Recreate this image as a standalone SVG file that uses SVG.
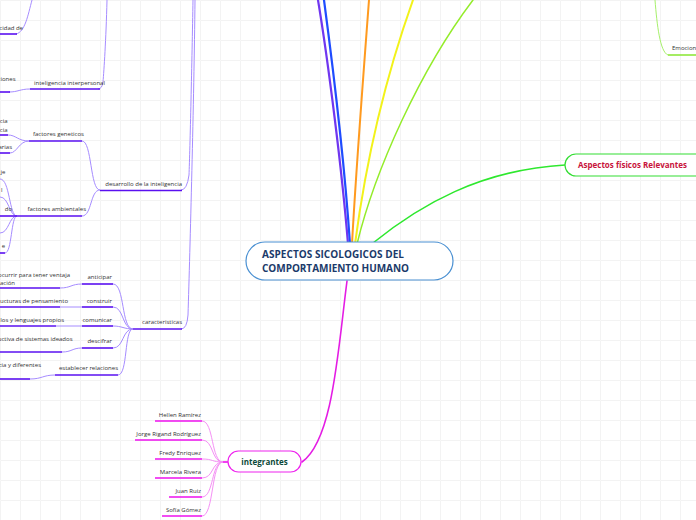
<svg xmlns="http://www.w3.org/2000/svg" width="696" height="520" viewBox="0 0 696 520">
<defs>
<pattern id="grid" width="20" height="20" patternUnits="userSpaceOnUse"><path d="M20.5,0.5 L0.5,0.5 0.5,20.5" fill="none" stroke="#f3f3f3" stroke-width="1"/></pattern>
<style>
.t{font-family:"Open Sans","Liberation Sans",sans-serif;font-size:6px;fill:#333}
.b{font-family:"Open Sans","Liberation Sans",sans-serif;font-weight:bold}
.ul{stroke:#5a10f0;stroke-width:1.6;fill:none}
.lc{stroke:#a68cff;stroke-width:1;fill:none}
.mu{stroke:#ee10ee;stroke-width:1.6;fill:none}
.mc{stroke:#f590f5;stroke-width:1;fill:none}
.m{fill:none;stroke-linecap:round}
</style>
</defs>
<rect width="696" height="520" fill="#fff"/>
<rect width="696" height="520" fill="url(#grid)"/>

<g id="connectors">
  <path class="m" d="M348,244 C342,170 328,60 318,0" stroke="#7036f0" stroke-width="2.2"/>
  <path class="m" d="M350,244 C345,170 332,60 324,0" stroke="#1f4cff" stroke-width="2.2"/>
  <path class="m" d="M352,244 C356,170 363,80 369,0" stroke="#ff9a1f" stroke-width="2"/>
  <path class="m" d="M355,244 Q372,115 413,0" stroke="#f2f21a" stroke-width="2"/>
  <path class="m" d="M357,244 C375,170 420,70 473,0" stroke="#94ec2a" stroke-width="1.5"/>
  <path class="m" d="M373,243 C420,205 480,170 565,165" stroke="#2ee82e" stroke-width="1.6"/>
  <path class="m" d="M347,281 C338,350 333,440 302,462" stroke="#e41ce4" stroke-width="1.6"/>
  <path d="M655,0 C657,25 660,52 668,55" fill="none" stroke="#a6f06a" stroke-width="1"/>

  <path class="lc" d="M193,0 C192,60 190,150 189,175 Q187,190 181,190"/>
  <path class="lc" d="M195,0 C194,100 190,250 188,315 Q187,329 181,329"/>
  <path class="lc" d="M107,0 C106,40 104,70 103,82 Q102,89 98,89"/>
  <path class="lc" d="M32,0 C28,15 25,32 16,34"/>
  <path class="lc" d="M9,92 C18,92 20,89 30,89"/>

  <path class="lc" d="M82,141 C92,141 90,190 100,190"/>
  <path class="lc" d="M82,216 C92,216 90,190 100,190"/>
  <path class="lc" d="M8,135 C16,135 18,141 29,141"/>
  <path class="lc" d="M10,153 C17,153 19,141 29,141"/>
  <path class="lc" d="M0,179 C10,179 9,216 17,216"/>
  <path class="lc" d="M0,197 C9,197 9,216 17,216"/>
  <path class="lc" d="M0,233 C9,233 9,216 17,216"/>
  <path class="lc" d="M5,253 C12,253 11,216 17,216"/>

  <path class="lc" d="M113,284 C125,284 121,329 133,329"/>
  <path class="lc" d="M113,307 C124,307 122,329 133,329"/>
  <path class="lc" d="M113,326 C122,326 124,329 133,329"/>
  <path class="lc" d="M113,348 C124,348 122,329 133,329"/>
  <path class="lc" d="M118,375 C128,375 124,329 133,329"/>
  <path class="lc" d="M60,288 C71,288 71,284 82,284"/>
  <path class="lc" d="M60,307 L82,307"/>
  <path class="lc" d="M56,326 L82,326"/>
  <path class="lc" d="M62,352 C72,352 72,348 82,348"/>
  <path class="lc" d="M30,379 C42,379 43,375 55,375"/>

  <path class="mc" d="M202,421 C214,421 211,462 223,462"/>
  <path class="mc" d="M202,440 C214,440 211,462 223,462"/>
  <path class="mc" d="M202,459 C214,459 211,462 223,462"/>
  <path class="mc" d="M202,478 C214,478 211,462 223,462"/>
  <path class="mc" d="M202,497 C214,497 211,462 223,462"/>
  <path class="mc" d="M202,516 C214,516 211,462 223,462"/>
  <path d="M223,462 L228,462" stroke="#ee10ee" stroke-width="1.6"/>
</g>

<g id="n-center">
  <rect x="246" y="242" width="207" height="38" rx="19" fill="#fff" stroke="#4a90d2" stroke-width="1.2"/>
  <text class="b" x="262" y="258" font-size="10" fill="#1b3a6a" textLength="142" lengthAdjust="spacing">ASPECTOS SICOLOGICOS DEL</text>
  <text class="b" x="262" y="271.5" font-size="10" fill="#1b3a6a" textLength="147" lengthAdjust="spacing">COMPORTAMIENTO HUMANO</text>
</g>

<g id="n-aspectos">
  <rect x="565" y="154" width="150" height="22" rx="11" fill="#fff" stroke="#33dd33" stroke-width="1.2"/>
  <text class="b" x="578" y="168" font-size="8" fill="#c8143c">Aspectos físicos Relevantes</text>
</g>

<g id="n-emocion">
  <line x1="668" y1="55" x2="696" y2="55" stroke="#8ee83c" stroke-width="1.6"/>
  <text class="t" x="672" y="50">Emocion</text>
</g>

<g id="n-integrantes">
  <rect x="228" y="451" width="73" height="21" rx="10.5" fill="#fff" stroke="#ee22ee" stroke-width="1.2"/>
  <text class="b" x="264.5" y="465" font-size="8" fill="#0d4a3a" text-anchor="middle">integrantes</text>
</g>
<g id="n-hellen"><line class="mu" x1="155" y1="421" x2="202" y2="421"/><text class="t" x="201" y="417" text-anchor="end">Hellen Ramírez</text></g>
<g id="n-jorge"><line class="mu" x1="135" y1="440" x2="202" y2="440"/><text class="t" x="201" y="436" text-anchor="end">Jorge Rigand Rodríguez</text></g>
<g id="n-fredy"><line class="mu" x1="155" y1="459" x2="202" y2="459"/><text class="t" x="201" y="454.5" text-anchor="end">Fredy Enriquez</text></g>
<g id="n-marcela"><line class="mu" x1="155" y1="478" x2="202" y2="478"/><text class="t" x="201" y="473.5" text-anchor="end">Marcela Rivera</text></g>
<g id="n-juan"><line class="mu" x1="169" y1="497" x2="202" y2="497"/><text class="t" x="201" y="492.5" text-anchor="end">Juan Ruiz</text></g>
<g id="n-sofia"><line class="mu" x1="162" y1="516" x2="202" y2="516"/><text class="t" x="201" y="511.5" text-anchor="end">Sofía Gómez</text></g>

<g id="n-capacidad"><line class="ul" x1="0" y1="34" x2="17" y2="34"/><text class="t" x="23" y="29.5" text-anchor="end">cidad de</text></g>
<g id="n-interpersonal"><line class="ul" x1="30" y1="89" x2="100" y2="89"/><text class="t" x="34" y="84.5">inteligencia interpersonal</text></g>
<g id="n-ciones"><line class="ul" x1="0" y1="92" x2="10" y2="92"/><text class="t" x="15.5" y="80.5" text-anchor="end">ciones</text></g>

<g id="n-desarrollo"><line class="ul" x1="100" y1="190.5" x2="182" y2="190.5"/><text class="t" x="182" y="185.5" text-anchor="end">desarrollo de la inteligencia</text></g>
<g id="n-fgen"><line class="ul" x1="29" y1="141" x2="82" y2="141"/><text class="t" x="33" y="136">factores geneticos</text></g>
<g id="n-famb"><line class="ul" x1="17" y1="216" x2="82" y2="216"/><text class="t" x="86" y="211" text-anchor="end">factores ambientales</text></g>
<g id="n-gen1"><line class="ul" x1="0" y1="135" x2="8" y2="135"/><text class="t" x="7.5" y="122.5" text-anchor="end">cia</text><text class="t" x="7.5" y="131.5" text-anchor="end">cia</text></g>
<g id="n-gen2"><line class="ul" x1="0" y1="153" x2="10" y2="153"/><text class="t" x="12" y="149" text-anchor="end">arias</text></g>
<g id="n-amb1"><text class="t" x="5.5" y="173.5" text-anchor="end">je</text></g>
<g id="n-amb2"><text class="t" x="2.5" y="192" text-anchor="end">l</text></g>
<g id="n-amb3"><line class="ul" x1="0" y1="216" x2="17" y2="216"/><text class="t" x="12" y="210.5" text-anchor="end">do</text></g>
<g id="n-amb5"><line class="ul" x1="0" y1="253" x2="5" y2="253"/><text class="t" x="5" y="248" text-anchor="end">e</text></g>

<g id="n-caract"><line class="ul" x1="133" y1="329" x2="182" y2="329"/><text class="t" x="182" y="323.5" text-anchor="end">caracteristicas</text></g>
<g id="n-anticipar"><line class="ul" x1="82" y1="284" x2="113" y2="284"/><text class="t" x="112" y="279" text-anchor="end">anticipar</text></g>
<g id="n-construir"><line class="ul" x1="82" y1="307" x2="113" y2="307"/><text class="t" x="112" y="302.5" text-anchor="end">construir</text></g>
<g id="n-comunicar"><line class="ul" x1="82" y1="326" x2="113" y2="326"/><text class="t" x="112" y="321.5" text-anchor="end">comunicar</text></g>
<g id="n-descifrar"><line class="ul" x1="82" y1="348" x2="113" y2="348"/><text class="t" x="112" y="343" text-anchor="end">descifrar</text></g>
<g id="n-establecer"><line class="ul" x1="55" y1="375" x2="118" y2="375"/><text class="t" x="118" y="369.5" text-anchor="end">establecer relaciones</text></g>
<g id="n-ant-child"><line class="ul" x1="0" y1="288" x2="60" y2="288"/><text class="t" x="70" y="276.5" text-anchor="end">ocurrir para tener ventaja</text><text class="t" x="15" y="285" text-anchor="end">ación</text></g>
<g id="n-con-child"><line class="ul" x1="0" y1="307" x2="60" y2="307"/><text class="t" x="68" y="302.5" text-anchor="end">ucturas de pensamiento</text></g>
<g id="n-com-child"><line class="ul" x1="0" y1="326" x2="56" y2="326"/><text class="t" x="64" y="321.5" text-anchor="end">los y lenguajes propios</text></g>
<g id="n-des-child"><line class="ul" x1="0" y1="352" x2="62" y2="352"/><text class="t" x="72.5" y="341" text-anchor="end">uctiva de sistemas ideados</text></g>
<g id="n-est-child"><line class="ul" x1="0" y1="379" x2="30" y2="379"/><text class="t" x="41" y="366.5" text-anchor="end">cia y diferentes</text></g>
</svg>
